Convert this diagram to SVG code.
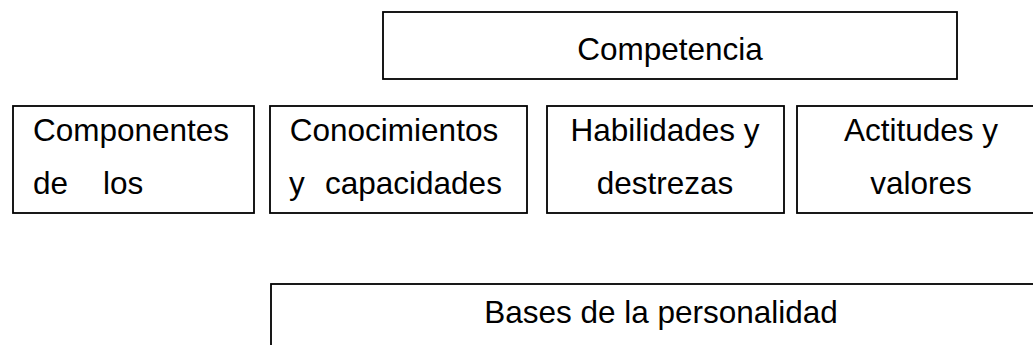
<svg xmlns="http://www.w3.org/2000/svg" width="1033" height="345" viewBox="0 0 1033 345">
<style>
.box{fill:#fff;stroke:#000;stroke-width:1.8}
.t{font-family:"Liberation Sans",Arial,sans-serif;fill:#000;font-size:31.5px}
</style>
<rect width="1033" height="345" fill="#fff"/>
<g id="competencia">
<rect class="box" x="383" y="12" width="574" height="67"/>
<text class="t" x="670" y="60" text-anchor="middle">Competencia</text>
</g>
<g id="componentes">
<rect class="box" x="13" y="106" width="241" height="107"/>
<text class="t" x="33" y="141">Componentes</text>
<text class="t" x="33" y="194">de</text>
<text class="t" x="103" y="194">los</text>
</g>
<g id="conocimientos">
<rect class="box" x="270" y="106" width="257" height="107"/>
<text class="t" x="394" y="141" text-anchor="middle">Conocimientos</text>
<text class="t" x="289" y="194">y</text>
<text class="t" x="325" y="194">capacidades</text>
</g>
<g id="habilidades">
<rect class="box" x="547" y="106" width="237" height="107"/>
<text class="t" x="665" y="141" text-anchor="middle">Habilidades y</text>
<text class="t" x="665" y="194" text-anchor="middle">destrezas</text>
</g>
<g id="actitudes">
<rect class="box" x="797" y="106" width="250" height="107"/>
<text class="t" x="921" y="141" text-anchor="middle">Actitudes y</text>
<text class="t" x="921" y="194" text-anchor="middle">valores</text>
</g>
<g id="bases">
<rect class="box" x="271" y="284" width="790" height="80"/>
<text class="t" x="661" y="323" text-anchor="middle">Bases de la personalidad</text>
</g>
<g id="connectors"></g>
</svg>
